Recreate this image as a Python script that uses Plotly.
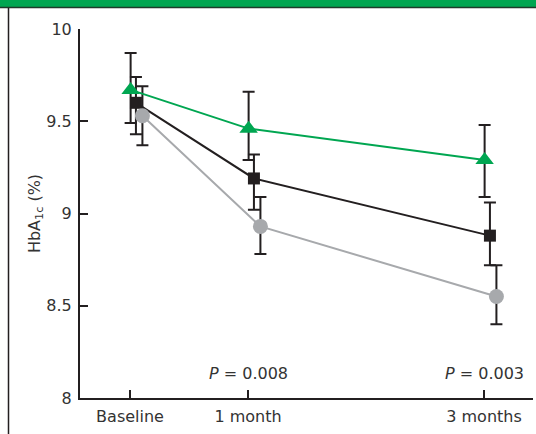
import plotly.graph_objects as go

months = [0, 1, 3]
tick_labels = ["Baseline", "1 month", "3 months"]

green_vals = [9.67, 9.46, 9.29]
green_plus = [0.20, 0.20, 0.19]
green_minus = [0.18, 0.17, 0.20]

black_vals = [9.60, 9.19, 8.88]
black_plus = [0.14, 0.13, 0.18]
black_minus = [0.17, 0.17, 0.16]

gray_vals = [9.53, 8.93, 8.55]
gray_plus = [0.16, 0.16, 0.17]
gray_minus = [0.16, 0.15, 0.15]

offsets = {"green": 0.005, "black": 0.05, "gray": 0.105}
p_values = ["0.008", "0.003"]
p_months = [1, 3]

GREEN = "#00a651"
BLACK = "#231f20"
GRAY = "#a7a9ac"
TEXT = "#333333"
FONT = "DejaVu Sans"

fig = go.Figure()

def add(vals, plus, minus, off, color, symbol, size):
    fig.add_trace(go.Scatter(
        x=[m + off for m in months], y=vals, mode="lines+markers",
        line=dict(color=color, width=2),
        marker=dict(symbol=symbol, size=size, color=color, line=dict(width=0)),
        error_y=dict(type="data", symmetric=False, array=plus, arrayminus=minus,
                     color=BLACK, thickness=2, width=6),
        showlegend=False, cliponaxis=False))

add(black_vals, black_plus, black_minus, offsets["black"], BLACK, "square", 12)
add(gray_vals, gray_plus, gray_minus, offsets["gray"], GRAY, "circle", 15)
add(green_vals, green_plus, green_minus, offsets["green"], GREEN, "triangle-up", 16)

# p-value annotations
for m, p in zip(p_months, p_values):
    fig.add_annotation(x=m, y=8.135, xref="x", yref="y", showarrow=False,
                       text="<i>P</i> = " + p, font=dict(size=16, color=TEXT, family=FONT))

# frame: green banner and left border
H = 369.0
W = 453.0
def py(p):
    return (398 - p) / H
def px(p):
    return (p - 80) / W

fig.add_shape(type="rect", xref="paper", yref="paper", x0=px(-5), x1=px(545),
              y0=py(7.5), y1=py(-5), fillcolor=GREEN, line=dict(width=0), layer="below")
fig.add_shape(type="line", xref="paper", yref="paper", x0=px(-5), x1=px(545),
              y0=py(7.5), y1=py(7.5), line=dict(color="#1e3b2a", width=1.5))
fig.add_shape(type="line", xref="paper", yref="paper", x0=px(8.5), x1=px(8.5),
              y0=py(8), y1=py(440), line=dict(color=BLACK, width=1.5))

fig.update_layout(
    width=536, height=434,
    margin=dict(l=80, r=3, t=29, b=36, pad=0),
    paper_bgcolor="white", plot_bgcolor="white",
    font=dict(family=FONT, size=16, color=TEXT),
    xaxis=dict(range=[-0.424, 3.415], tickmode="array", tickvals=months, ticktext=tick_labels,
               showgrid=False, zeroline=False, showline=True, linecolor=BLACK, linewidth=2,
               ticks="inside", ticklen=8, tickwidth=2, tickcolor=BLACK,
               ticklabelstandoff=3,
               tickfont=dict(size=16, color=TEXT, family=FONT)),
    yaxis=dict(range=[8, 10], tickvals=[8, 8.5, 9, 9.5, 10], ticktext=["8", "8.5", "9", "9.5", "10"],
               showgrid=False, zeroline=False, showline=True, linecolor=BLACK, linewidth=2,
               ticks="inside", ticklen=8, tickwidth=2, tickcolor=BLACK,
               ticklabelstandoff=3,
               tickfont=dict(size=16, color=TEXT, family=FONT),
               title=dict(text="HbA<sub>1c</sub> (%)", font=dict(size=16, color=TEXT, family=FONT),
                          standoff=2)),
)

fig.write_html("out.html", config={"displayModeBar": False},
               post_script="document.body.style.margin='0';")
